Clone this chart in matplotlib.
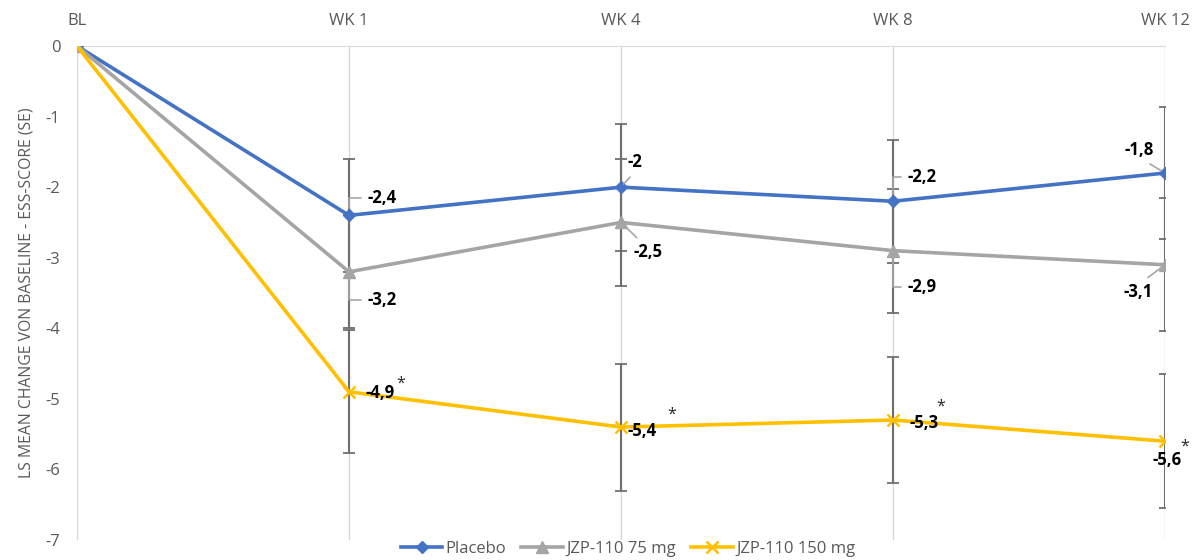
import matplotlib
matplotlib.use("Agg")
import matplotlib.pyplot as plt
import numpy as np

# visits and LS mean change from baseline in ESS score
visits = ["BL", "WK 1", "WK 4", "WK 8", "WK 12"]
placebo = [0, -2.4, -2.0, -2.2, -1.8]
jzp_75 = [0, -3.2, -2.5, -2.9, -3.1]
jzp_150 = [0, -4.9, -5.4, -5.3, -5.6]

# standard errors
se_placebo = [0, 0.8, 0.9, 0.87, 0.93]
se_75 = [0, 0.8, 0.9, 0.88, 0.94]
se_150 = [0, 0.87, 0.9, 0.89, 0.95]

# visits flagged as significant vs placebo (150 mg only)
signif_150 = [False, True, True, True, True]

series_names = ["Placebo", "JZP-110 75 mg", "JZP-110 150 mg"]

plt.rcParams['font.family'] = ['Open Sans', 'DejaVu Sans']
GREY_TXT = "#595959"

fig = plt.figure(figsize=(11.98, 5.60), dpi=100)
ax = fig.add_axes([77 / 1198, 1 - 540 / 560, (1165 - 77) / 1198, (540 - 46) / 560])

x = np.arange(len(visits))
styles = [
    dict(color="#4472C4", marker="D", ms=6.5),
    dict(color="#A5A5A5", marker="^", ms=8),
    dict(color="#FFC000", marker="x", ms=8, mew=1.8),
]
all_vals = [placebo, jzp_75, jzp_150]
all_se = [se_placebo, se_75, se_150]

for vals, se, st, name in zip(all_vals, all_se, styles, series_names):
    xe = x[1:]
    ax.errorbar(xe, np.array(vals)[1:], yerr=np.array(se)[1:], fmt="none",
                ecolor="#6E6E6E", elinewidth=1.5, capsize=4.5, capthick=1.3,
                zorder=2)
    ax.plot(x, vals, lw=2.6, label=name, zorder=3, **st)

ax.set_xlim(0, 4)
ax.set_ylim(-7, 0)
ax.set_yticks(np.arange(0, -8, -1))
ax.set_yticklabels([str(v) for v in range(0, -8, -1)])
ax.set_xticks(x)
ax.set_xticklabels(visits)
ax.xaxis.tick_top()
ax.tick_params(axis="both", length=0, colors=GREY_TXT, labelsize=12)
ax.tick_params(axis="x", pad=12)
ax.tick_params(axis="y", pad=12)
ax.grid(axis="x", color="#D9D9D9", lw=1)
ax.set_axisbelow(True)
for side in ["left", "right", "bottom"]:
    ax.spines[side].set_visible(False)
ax.spines["top"].set_color("#D9D9D9")
ax.set_ylabel("LS MEAN CHANGE VON BASELINE - ESS-SCORE (SE)", color=GREY_TXT,
              fontsize=11.3, labelpad=8)

# data label placement (pixel offsets) and leader style per point
label_pos = {
    0: [None, (19, 17, "l", "bracket"), (7, 25, "l", "diag"),
        (15, 24, "l", "bracket"), (-26, 23, "c", "diag")],
    1: [None, (19, -28, "l", "bracket"), (13, -30, "l", "diag"),
        (15, -36, "l", "bracket"), (-27, -27, "c", "diag")],
    2: [None, (17, -1, "l", None), (6, -4, "l", None),
        (17, -3, "l", None), (2, -19, "c", None)],
}
star_pos = [None, (52, 8), (51, 12), (48, 13), (20, -5)]


def fmt(v):
    return ("%g" % v).replace(".", ",")


for si, vals in enumerate(all_vals):
    for i in range(1, len(vals)):
        dx, dy, ha, lead = label_pos[si][i]
        ha_map = {"l": "left", "c": "center"}
        arrow = None
        if lead == "bracket":
            arrow = dict(arrowstyle="-", color="#A6A6A6", lw=1.2, shrinkA=3,
                         shrinkB=5, relpos=(0, 0.5),
                         connectionstyle="angle,angleA=0,angleB=90,rad=0")
        elif lead == "diag":
            arrow = dict(arrowstyle="-", color="#A6A6A6", lw=1.2, shrinkA=3,
                         shrinkB=3, relpos=(0.5, 0.5 if dy < 0 else 0.0),
                         connectionstyle="arc3")
            if si == 0 and i == 4:
                arrow["relpos"] = (0.6, 0.0)
            if si == 1 and i == 4:
                arrow["relpos"] = (0.6, 1.0)
            if si == 1 and i == 2:
                arrow["relpos"] = (0.3, 1.0)
            if si == 0 and i == 2:
                arrow["relpos"] = (0.5, 0.0)
        ax.annotate(fmt(vals[i]), (x[i], vals[i]), xytext=(dx, dy),
                    textcoords="offset pixels", ha=ha_map[ha], va="center",
                    fontsize=12, fontweight="bold", color="black",
                    arrowprops=arrow, zorder=5)
    if si == 2:
        for i in range(len(vals)):
            if signif_150[i]:
                ax.annotate("*", (x[i], vals[i]), xytext=star_pos[i],
                            textcoords="offset pixels", ha="center",
                            va="center", fontsize=11.5, color="#262626", zorder=5)

leg = fig.legend(loc="center", bbox_to_anchor=(628 / 1198, 1 - 549 / 560), ncol=3,
                 frameon=False, fontsize=12, handlelength=2.5,
                 columnspacing=0.9, handletextpad=0.2, borderaxespad=0)
for t in leg.get_texts():
    t.set_color(GREY_TXT)

fig.savefig("out.png", dpi=100)
